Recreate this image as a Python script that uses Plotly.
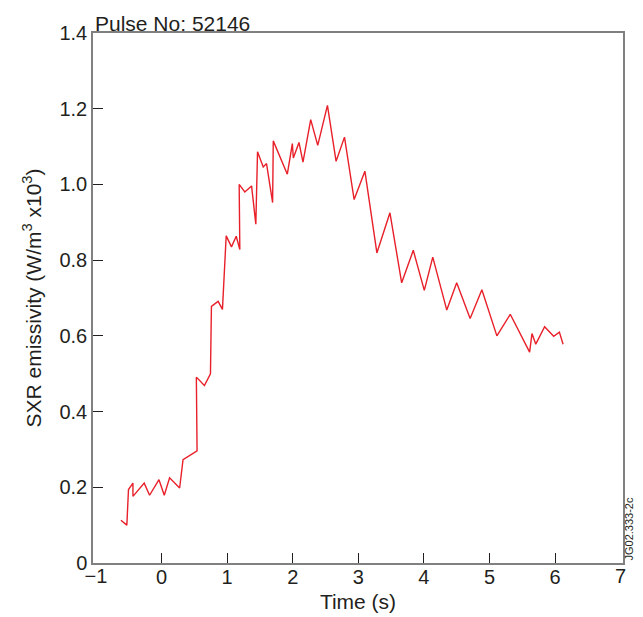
import plotly.graph_objects as go

time_s = [-0.62, -0.53, -0.505, -0.437, -0.437, -0.265, -0.183, -0.04, 0.041, 0.122,
          0.275, 0.327, 0.541, 0.53, 0.653, 0.745, 0.76, 0.862, 0.928, 0.985,
          1.066, 1.138, 1.193, 1.183, 1.269, 1.372, 1.437, 1.463, 1.55, 1.60,
          1.693, 1.703, 1.917, 1.994, 2.009, 2.095, 2.156, 2.274, 2.381, 2.529,
          2.661, 2.789, 2.936, 3.10, 3.283, 3.482, 3.661, 3.838, 4.006, 4.135,
          4.349, 4.50, 4.705, 4.884, 5.113, 5.317, 5.612, 5.648, 5.706, 5.841,
          5.979, 6.066, 6.122]
sxr = [0.113, 0.10, 0.194, 0.211, 0.176, 0.211, 0.179, 0.22, 0.179, 0.225,
       0.198, 0.273, 0.296, 0.491, 0.469, 0.50, 0.678, 0.691, 0.670, 0.864,
       0.835, 0.863, 0.828, 1.0, 0.98, 0.996, 0.895, 1.086, 1.046, 1.055,
       0.952, 1.115, 1.027, 1.108, 1.07, 1.111, 1.059, 1.171, 1.103, 1.209,
       1.061, 1.125, 0.96, 1.035, 0.819, 0.925, 0.74, 0.826, 0.72, 0.808,
       0.668, 0.74, 0.646, 0.722, 0.60, 0.657, 0.557, 0.606, 0.578, 0.624,
       0.599, 0.61, 0.578]

x_ticks_marked = [0, 1, 2, 3, 4, 5, 6]
x_ticks_edge = [-1, 7]
y_ticks = [0, 0.2, 0.4, 0.6, 0.8, 1.0, 1.2, 1.4]
y_tick_text = ["0", "0.2", "0.4", "0.6", "0.8", "1.0", "1.2", "1.4"]
x_range = [-1.046, 7.036]

FAM = "Liberation Sans, Arial, sans-serif"
INK = "#231f20"
tick_font = dict(family=FAM, size=20, color=INK)
title_font = dict(family=FAM, size=21, color=INK)

fig = go.Figure()
fig.add_trace(go.Scatter(x=time_s, y=sxr, mode="lines",
                         line=dict(color="#e8202a", width=1.4),
                         showlegend=False, hoverinfo="skip"))
# empty trace so the second x axis (labels at the box edges, no tick marks) is drawn
fig.add_trace(go.Scatter(x=x_ticks_edge, y=[None, None], xaxis="x2", mode="lines",
                         showlegend=False, hoverinfo="skip"))

# page body has an 8px margin, so the figure is offset by (8, 8)
fig.update_layout(
    width=635, height=609,
    margin=dict(l=85, r=20, t=25, b=54, autoexpand=False),
    paper_bgcolor="white", plot_bgcolor="white",
    font=tick_font,
    xaxis=dict(range=x_range, tickmode="array", tickvals=x_ticks_marked,
               ticks="inside", ticklen=10, tickwidth=1, tickcolor=INK,
               ticklabelstandoff=-5,
               showline=True, linecolor="#808080", linewidth=1.5, mirror=True,
               showgrid=False, zeroline=False,
               title=dict(text="Time (s)", standoff=8, font=title_font),
               tickfont=tick_font),
    xaxis2=dict(range=x_range, overlaying="x", side="bottom", anchor="y",
                tickmode="array", tickvals=x_ticks_edge,
                ticks="inside", ticklen=10, tickcolor="rgba(0,0,0,0)",
                ticklabelstandoff=-1,
                showline=False, showgrid=False, zeroline=False,
                tickfont=tick_font),
    yaxis=dict(range=[0, 1.4], tickmode="array", tickvals=y_ticks, ticktext=y_tick_text,
               ticks="inside", ticklen=10, tickwidth=1, tickcolor=INK,
               showline=True, linecolor="#808080", linewidth=1.5, mirror=True,
               showgrid=False, zeroline=False,
               title=dict(text="SXR emissivity (W/m<sup>3</sup> x10<sup>3</sup>)", standoff=12, font=title_font),
               tickfont=tick_font),
)

fig.add_annotation(text="Pulse No: 52146", xref="paper", yref="paper",
                   x=0.0, y=1.0, xanchor="left", yanchor="bottom", showarrow=False,
                   xshift=0, yshift=-4, font=dict(family=FAM, size=21, color=INK))
fig.add_annotation(text="JG02.333-2c", xref="paper", yref="paper",
                   x=1.0, y=0.0, xanchor="left", yanchor="bottom", showarrow=False,
                   textangle=-90, xshift=-3, yshift=0,
                   font=dict(family=FAM, size=11, color=INK))

fig.write_html("out.html")
